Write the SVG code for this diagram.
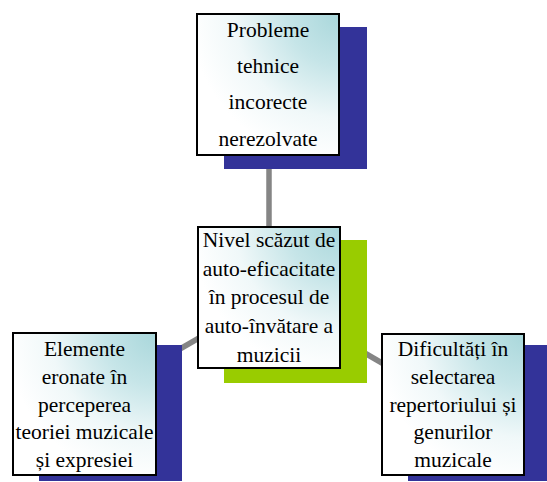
<svg xmlns="http://www.w3.org/2000/svg" width="547" height="482" viewBox="0 0 547 482">
<defs>
<radialGradient id="fill" cx="1" cy="0" r="1.05" fx="1" fy="0">
<stop offset="0" stop-color="#a9d7db"/>
<stop offset="0.35" stop-color="#c6e5e8"/>
<stop offset="0.7" stop-color="#f0f8f9"/>
<stop offset="1" stop-color="#ffffff"/>
</radialGradient>
</defs>
<style>
.box{fill:url(#fill);stroke:#000;stroke-width:2}
.sh{fill:#333399}
.shg{fill:#99cc00}
.conn{stroke:#858585;stroke-width:5.5;fill:none}
.t{font-family:"Liberation Serif","Times New Roman",Times,"Nimbus Roman","DejaVu Serif",serif;font-size:21.5px;fill:#000;text-anchor:middle}
</style>
<rect width="547" height="482" fill="#ffffff"/>
<g id="connectors">
<line class="conn" x1="269" y1="85" x2="269" y2="297"/>
<line class="conn" x1="269" y1="297.5" x2="84" y2="404.5"/>
<line class="conn" x1="269" y1="297.5" x2="453.5" y2="404.5"/>
</g>
<g id="node-top">
<rect class="sh" x="224" y="27" width="143" height="142"/>
<rect class="box" x="197" y="14" width="142" height="141"/>
<text class="t" x="268" y="36.5">Probleme</text>
<text class="t" x="268" y="73">tehnice</text>
<text class="t" x="268" y="109.3">incorecte</text>
<text class="t" x="268" y="145.6">nerezolvate</text>
</g>
<g id="node-center">
<rect class="shg" x="224" y="240" width="143" height="143"/>
<rect class="box" x="198" y="227" width="142" height="141"/>
<text class="t" x="269" y="247">Nivel scăzut de</text>
<text class="t" x="269" y="275.7">auto-eficacitate</text>
<text class="t" x="269" y="304.4">în procesul de</text>
<text class="t" x="269" y="333">auto-învătare a</text>
<text class="t" x="269" y="361.7">muzicii</text>
</g>
<g id="node-left">
<rect class="sh" x="39" y="345" width="143" height="136"/>
<rect class="box" x="13" y="333" width="143" height="142"/>
<text class="t" x="84.5" y="356.3">Elemente</text>
<text class="t" x="84.5" y="384">eronate în</text>
<text class="t" x="84.5" y="411.7">perceperea</text>
<text class="t" x="84.5" y="439.3">teoriei muzicale</text>
<text class="t" x="84.5" y="467">și expresiei</text>
</g>
<g id="node-right">
<rect class="sh" x="408" y="345" width="143" height="136"/>
<rect class="box" x="382" y="334" width="142" height="141"/>
<text class="t" x="453" y="356.3">Dificultăți în</text>
<text class="t" x="453" y="384">selectarea</text>
<text class="t" x="453" y="411.7">repertoriului și</text>
<text class="t" x="453" y="439.3">genurilor</text>
<text class="t" x="453" y="467">muzicale</text>
</g>
</svg>
